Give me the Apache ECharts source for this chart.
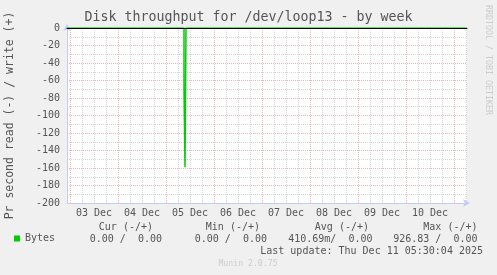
<!DOCTYPE html>
<html><head><meta charset="utf-8">
<script src="https://cdn.jsdelivr.net/npm/echarts@6/dist/echarts.min.js"></script>
<style>html,body{margin:0;padding:0;background:#f0f0f0;overflow:hidden}#c{width:497px;height:275px}</style>
</head><body><div id="c"></div>
<script>
// ---- data ----
const chartTitle = 'Disk throughput for /dev/loop13 - by week';
const yAxisName = 'Pr second read (-) / write (+)';
const dayLabels = ['03 Dec', '04 Dec', '05 Dec', '06 Dec', '07 Dec', '08 Dec', '09 Dec', '10 Dec'];
// hours since 03 Dec 00:00
const sampleHours = [-1.5, 57.0, 57.5, 58.0, 149.5, 150.0, 198.5];
const readValues  = [0, -70, -159, 0, -2, 0, 0];
const seriesName = 'Bytes';
const legendHeaders = ['Cur (-/+)', 'Min (-/+)', 'Avg (-/+)', 'Max (-/+)'];
const legendValues = ['0.00 /  0.00', '0.00 /  0.00', '410.69m/  0.00', '926.83 /  0.00'];
const lastUpdate = 'Last update: Thu Dec 11 05:30:04 2025';
const footerText = 'Munin 2.0.75';
const sideText = 'RRDTOOL / TOBI OETIKER';

// ---- layout / style ----
const FONT = 'DejaVu Sans Mono';
const TXT = '#555555';
const RED = '#eeb6b6';
const GREY = '#d6d6d6';
const AXIS = '#c4ccf4';
const GREEN = '#00cc00';
const headerRight = [153, 260, 369, 477.5];
const valueRight = [162, 267, 372.5, 477.5];

const chart = echarts.init(document.getElementById('c'), null, {renderer: 'canvas'});

const hiddenY = (g) => ({type: 'value', gridIndex: g, min: -200, max: 0, show: false});
const dotted = (c) => ({show: true, lineStyle: {color: c, width: 1, type: [1, 1]}});
const gridBase = {top: 28, height: 175, outerBoundsMode: 'none', containLabel: false};

const graphics = [];
graphics.push({type: 'text', x: 248.5, y: 18, style: {text: chartTitle, font: '13.3px "' + FONT + '"', fill: TXT, align: 'center', verticalAlign: 'middle'}});
graphics.push({type: 'text', x: 488, y: 60, rotation: -Math.PI / 2, style: {text: sideText, font: '8.3px "' + FONT + '"', fill: '#cccccc', align: 'center', verticalAlign: 'middle'}});
legendHeaders.forEach((h, i) => graphics.push({type: 'text', x: headerRight[i], y: 227.5, style: {text: h, font: '10px "' + FONT + '"', fill: TXT, align: 'right', verticalAlign: 'middle'}}));
legendValues.forEach((v, i) => graphics.push({type: 'text', x: valueRight[i], y: 239.5, style: {text: v, font: '10px "' + FONT + '"', fill: TXT, align: 'right', verticalAlign: 'middle'}}));
graphics.push({type: 'text', x: 483, y: 251.8, style: {text: lastUpdate, font: '10px "' + FONT + '"', fill: TXT, align: 'right', verticalAlign: 'middle'}});
graphics.push({type: 'text', x: 248, y: 264, style: {text: footerText, font: '8.2px "' + FONT + '"', fill: '#cccccc', align: 'center', verticalAlign: 'middle'}});

const option = {
  animation: false,
  backgroundColor: '#f0f0f0',
  textStyle: {fontFamily: FONT},
  grid: [
    Object.assign({left: 67, width: 400, show: true, backgroundColor: '#ffffff', borderWidth: 0}, gridBase),
    Object.assign({left: 70, width: 396}, gridBase),
    Object.assign({left: 70, width: 384}, gridBase),
    Object.assign({left: 94, width: 336}, gridBase)
  ],
  xAxis: [
    {type: 'value', gridIndex: 0, min: -1.5, max: 198.5, z: 3, position: 'bottom',
      axisLine: {show: true, onZero: false, lineStyle: {color: AXIS, width: 1}, symbol: ['none', 'arrow'], symbolSize: [6, 7], symbolOffset: [0, 3]},
      axisTick: {show: false}, axisLabel: {show: false}, splitLine: {show: false}},
    {type: 'value', gridIndex: 1, min: 0, max: 198, interval: 6, z: 0,
      axisLine: {show: false}, axisTick: {show: false}, axisLabel: {show: false}, splitLine: dotted(GREY)},
    {type: 'value', gridIndex: 2, min: 0, max: 192, interval: 24, z: 1,
      axisLine: {show: false}, axisTick: {show: false}, axisLabel: {show: false}, splitLine: dotted(RED)},
    {type: 'value', gridIndex: 3, min: 0, max: 168, interval: 24, z: 1,
      axisLine: {show: false}, axisTick: {show: false}, splitLine: {show: false},
      axisLabel: {show: true, interval: 0, margin: 5, color: TXT, fontFamily: FONT, fontSize: 10,
        formatter: (v) => dayLabels[Math.round(v / 24)] || ''}},
    // zero line drawn on top of the data (black)
    {type: 'value', gridIndex: 0, min: -1.5, max: 198.5, z: 10, position: 'top',
      axisLine: {show: true, onZero: false, lineStyle: {color: '#000000', width: 1}},
      axisTick: {show: false}, axisLabel: {show: false}, splitLine: {show: false}}
  ],
  yAxis: [
    {type: 'value', gridIndex: 0, min: -200, max: 0, interval: 20, z: 3,
      name: yAxisName, nameLocation: 'middle', nameRotate: 90, nameGap: 50.5,
      nameTextStyle: {color: TXT, fontFamily: FONT, fontSize: 11.5},
      axisLine: {show: true, onZero: false, lineStyle: {color: AXIS, width: 1}, symbol: ['none', 'arrow'], symbolSize: [6, 7], symbolOffset: [0, 4]},
      axisTick: {show: false},
      axisLabel: {show: true, margin: 7, color: TXT, fontFamily: FONT, fontSize: 10},
      splitLine: dotted(RED),
      minorTick: {show: false, splitNumber: 2},
      minorSplitLine: dotted(GREY)},
    hiddenY(1), hiddenY(2), hiddenY(3)
  ],
  legend: {show: true, data: [seriesName], left: 14, top: 233.5, padding: 0, icon: 'rect', itemWidth: 6, itemHeight: 6, itemGap: 5,
    textStyle: {color: TXT, fontFamily: FONT, fontSize: 10}, selectedMode: false},
  series: [{
    name: seriesName, type: 'line', xAxisIndex: 0, yAxisIndex: 0, z: 5,
    step: 'end', showSymbol: false, symbol: 'none',
    color: GREEN, lineStyle: {color: GREEN, width: 1.5},
    data: sampleHours.map((h, i) => [h, readValues[i]])
  }],
  graphic: graphics
};
chart.setOption(option);
</script>
</body></html>
